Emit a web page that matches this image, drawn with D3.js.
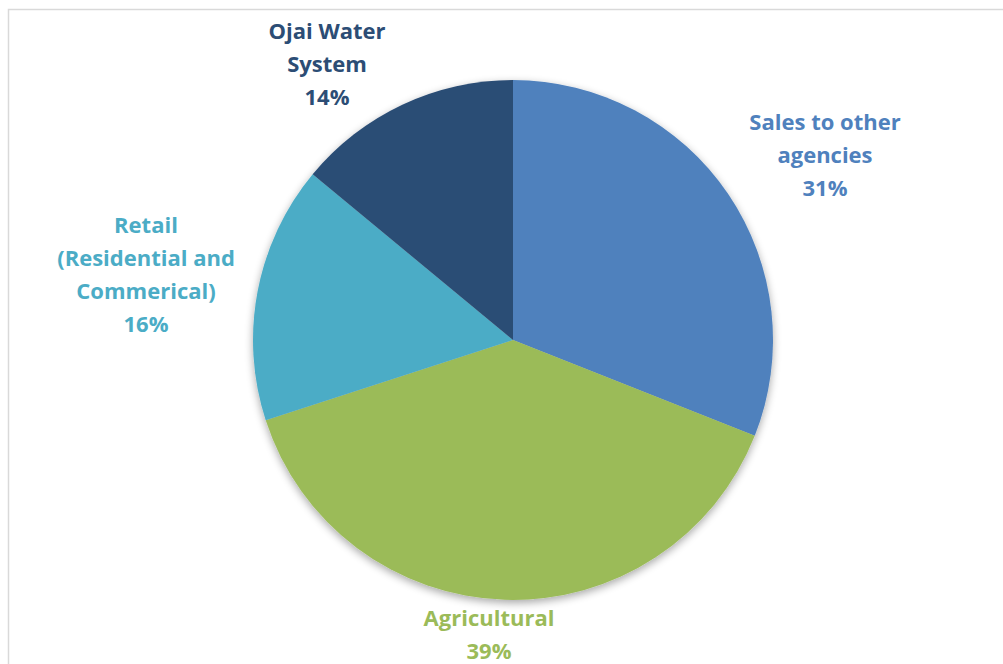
<!DOCTYPE html>
<html><head><meta charset="utf-8">
<script src="https://cdn.jsdelivr.net/npm/d3@7"></script>
<style>body{margin:0;background:#fff}svg{display:block}</style>
</head><body>
<svg id="c" width="1003" height="664"></svg>
<script>
const categories = ["Sales to other agencies", "Agricultural", "Retail (Residential and Commerical)", "Ojai Water System"];
const values = [31, 39, 16, 14];
const colors = ["#4F81BD", "#9BBB59", "#4BACC6", "#2C4D75"];
const labelLines = [["Sales to other", "agencies", "31%"], ["Agricultural", "39%"], ["Retail", "(Residential and", "Commerical)", "16%"], ["Ojai Water", "System", "14%"]];

const svg = d3.select("#c");
svg.append("rect").attr("x", 8.5).attr("y", 9.5).attr("width", 1010).attr("height", 700)
  .attr("fill", "#fff").attr("stroke", "#d9d9d9").attr("stroke-width", 1.5);

const defs = svg.append("defs");
const f = defs.append("filter").attr("id", "sh").attr("x", "-20%").attr("y", "-20%").attr("width", "140%").attr("height", "140%");
f.append("feGaussianBlur").attr("in", "SourceAlpha").attr("stdDeviation", 4);
f.append("feOffset").attr("dx", 0).attr("dy", 3).attr("result", "b");
f.append("feComponentTransfer").append("feFuncA").attr("type", "linear").attr("slope", 0.35);
const m = f.append("feMerge"); m.append("feMergeNode"); m.append("feMergeNode").attr("in", "SourceGraphic");

const cx = 513, cy = 340, R = 260;
const pie = d3.pie().sort(null).value(d => d)(values);
const arc = d3.arc().innerRadius(0).outerRadius(R);
const g = svg.append("g").attr("transform", `translate(${cx},${cy})`).attr("filter", "url(#sh)");
g.selectAll("path").data(pie).join("path").attr("d", arc).attr("fill", (d, i) => colors[i]);

// label anchor positions (layout), center of first line relative to pie center
const labelOffsets = [[312, -218], [-24, 278], [-367, -115], [-186, -309]];
const lineH = 33;
labelLines.forEach((lines, i) => {
  const [ox, oy] = labelOffsets[i];
  const t = svg.append("text").attr("text-anchor", "middle")
    .attr("font-family", "'Open Sans', Lato, sans-serif").attr("font-weight", "bold")
    .attr("font-size", 22).attr("fill", colors[i]);
  lines.forEach((s, k) => t.append("tspan").attr("x", cx + ox).attr("y", cy + oy + k * lineH).attr("dy", "0.36em").text(s));
});
</script>
</body></html>
